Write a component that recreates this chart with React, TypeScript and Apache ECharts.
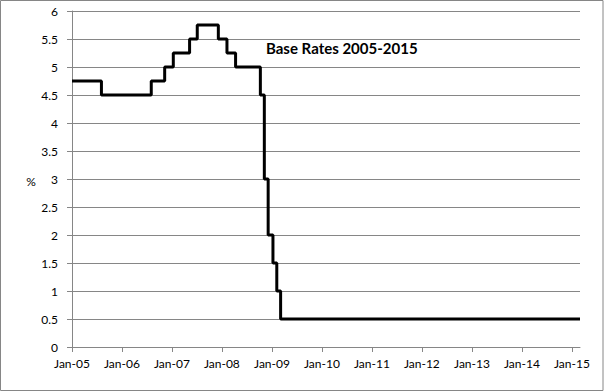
import React, { useEffect, useRef } from "react";
import * as echarts from "echarts";

// Bank Rate change dates and values (%)
const changeDates = [
  "2005-01-01", "2005-08-04", "2006-08-03", "2006-11-09", "2007-01-11",
  "2007-05-10", "2007-07-05", "2007-12-06", "2008-02-07", "2008-04-10",
  "2008-10-08", "2008-11-06", "2008-12-04", "2009-01-08", "2009-02-05",
  "2009-03-05", "2015-03-01",
];
const rates = [
  4.75, 4.5, 4.75, 5.0, 5.25,
  5.5, 5.75, 5.5, 5.25, 5.0,
  4.5, 3.0, 2.0, 1.5, 1.0,
  0.5, 0.5,
];
const tickYears = [2005, 2006, 2007, 2008, 2009, 2010, 2011, 2012, 2013, 2014, 2015];
const axisStart = "2005-01-01";
const axisEnd = "2015-03-01";
const titleText = "Base Rates 2005-2015";
const yAxisTitle = "%";

const ts = (s: string) => {
  const [y, m, d] = s.split("-").map(Number);
  return Date.UTC(y, m - 1, d);
};

export default function App() {
  const ref = useRef<HTMLDivElement>(null);
  useEffect(() => {
    document.body.style.margin = "0";
    if (!ref.current) return;
    const chart = echarts.init(ref.current, undefined, { renderer: "svg" });
    const tickVals = tickYears.map((y) => Date.UTC(y, 0, 1));
    const font = "Lato, 'Open Sans', sans-serif";
    chart.setOption({
      animation: false,
      backgroundColor: "#ffffff",
      grid: { left: 72, right: 25, top: 11, bottom: 45, containLabel: false },
      xAxis: {
        type: "value",
        min: ts(axisStart),
        max: ts(axisEnd),
        axisLine: { show: true, lineStyle: { color: "#868686", width: 1 } },
        axisTick: {
          show: true,
          length: 5,
          customValues: tickVals,
          lineStyle: { color: "#868686" },
        },
        axisLabel: {
          customValues: tickVals,
          margin: 10,
          color: "#000",
          fontFamily: font,
          fontSize: 12,
          formatter: (v: number) => {
            const d = new Date(v);
            return "Jan-" + String(d.getUTCFullYear() % 100).padStart(2, "0");
          },
        },
        splitLine: { show: false },
      },
      yAxis: {
        type: "value",
        min: 0,
        max: 6,
        interval: 0.5,
        axisLine: { show: true, lineStyle: { color: "#868686", width: 1 } },
        axisTick: { show: true, length: 5, lineStyle: { color: "#868686" } },
        axisLabel: { margin: 14, color: "#000", fontFamily: font, fontSize: 12 },
        splitLine: { show: true, lineStyle: { color: "#868686", width: 1 } },
      },
      series: [
        {
          type: "line",
          step: "end",
          showSymbol: false,
          symbol: "none",
          lineStyle: { color: "#000", width: 3 },
          data: changeDates.map((d, i) => [ts(d), rates[i]]),
        },
      ],
      graphic: [
        {
          type: "rect",
          shape: { x: 0.5, y: 0.5, width: 602.5, height: 390 },
          style: { fill: "none", stroke: "#868686", lineWidth: 1 },
          silent: true,
        },
        {
          type: "text",
          x: 266,
          y: 48,
          style: {
            text: titleText,
            font: "bold 15px " + font,
            fill: "#000",
            textVerticalAlign: "middle",
          },
        },
        {
          type: "text",
          x: 31,
          y: 181,
          style: {
            text: yAxisTitle,
            font: "12px " + font,
            fill: "#000",
            textAlign: "center",
            textVerticalAlign: "middle",
          },
        },
      ],
    });
    return () => chart.dispose();
  }, []);
  return <div ref={ref} style={{ width: 605, height: 392 }} />;
}
